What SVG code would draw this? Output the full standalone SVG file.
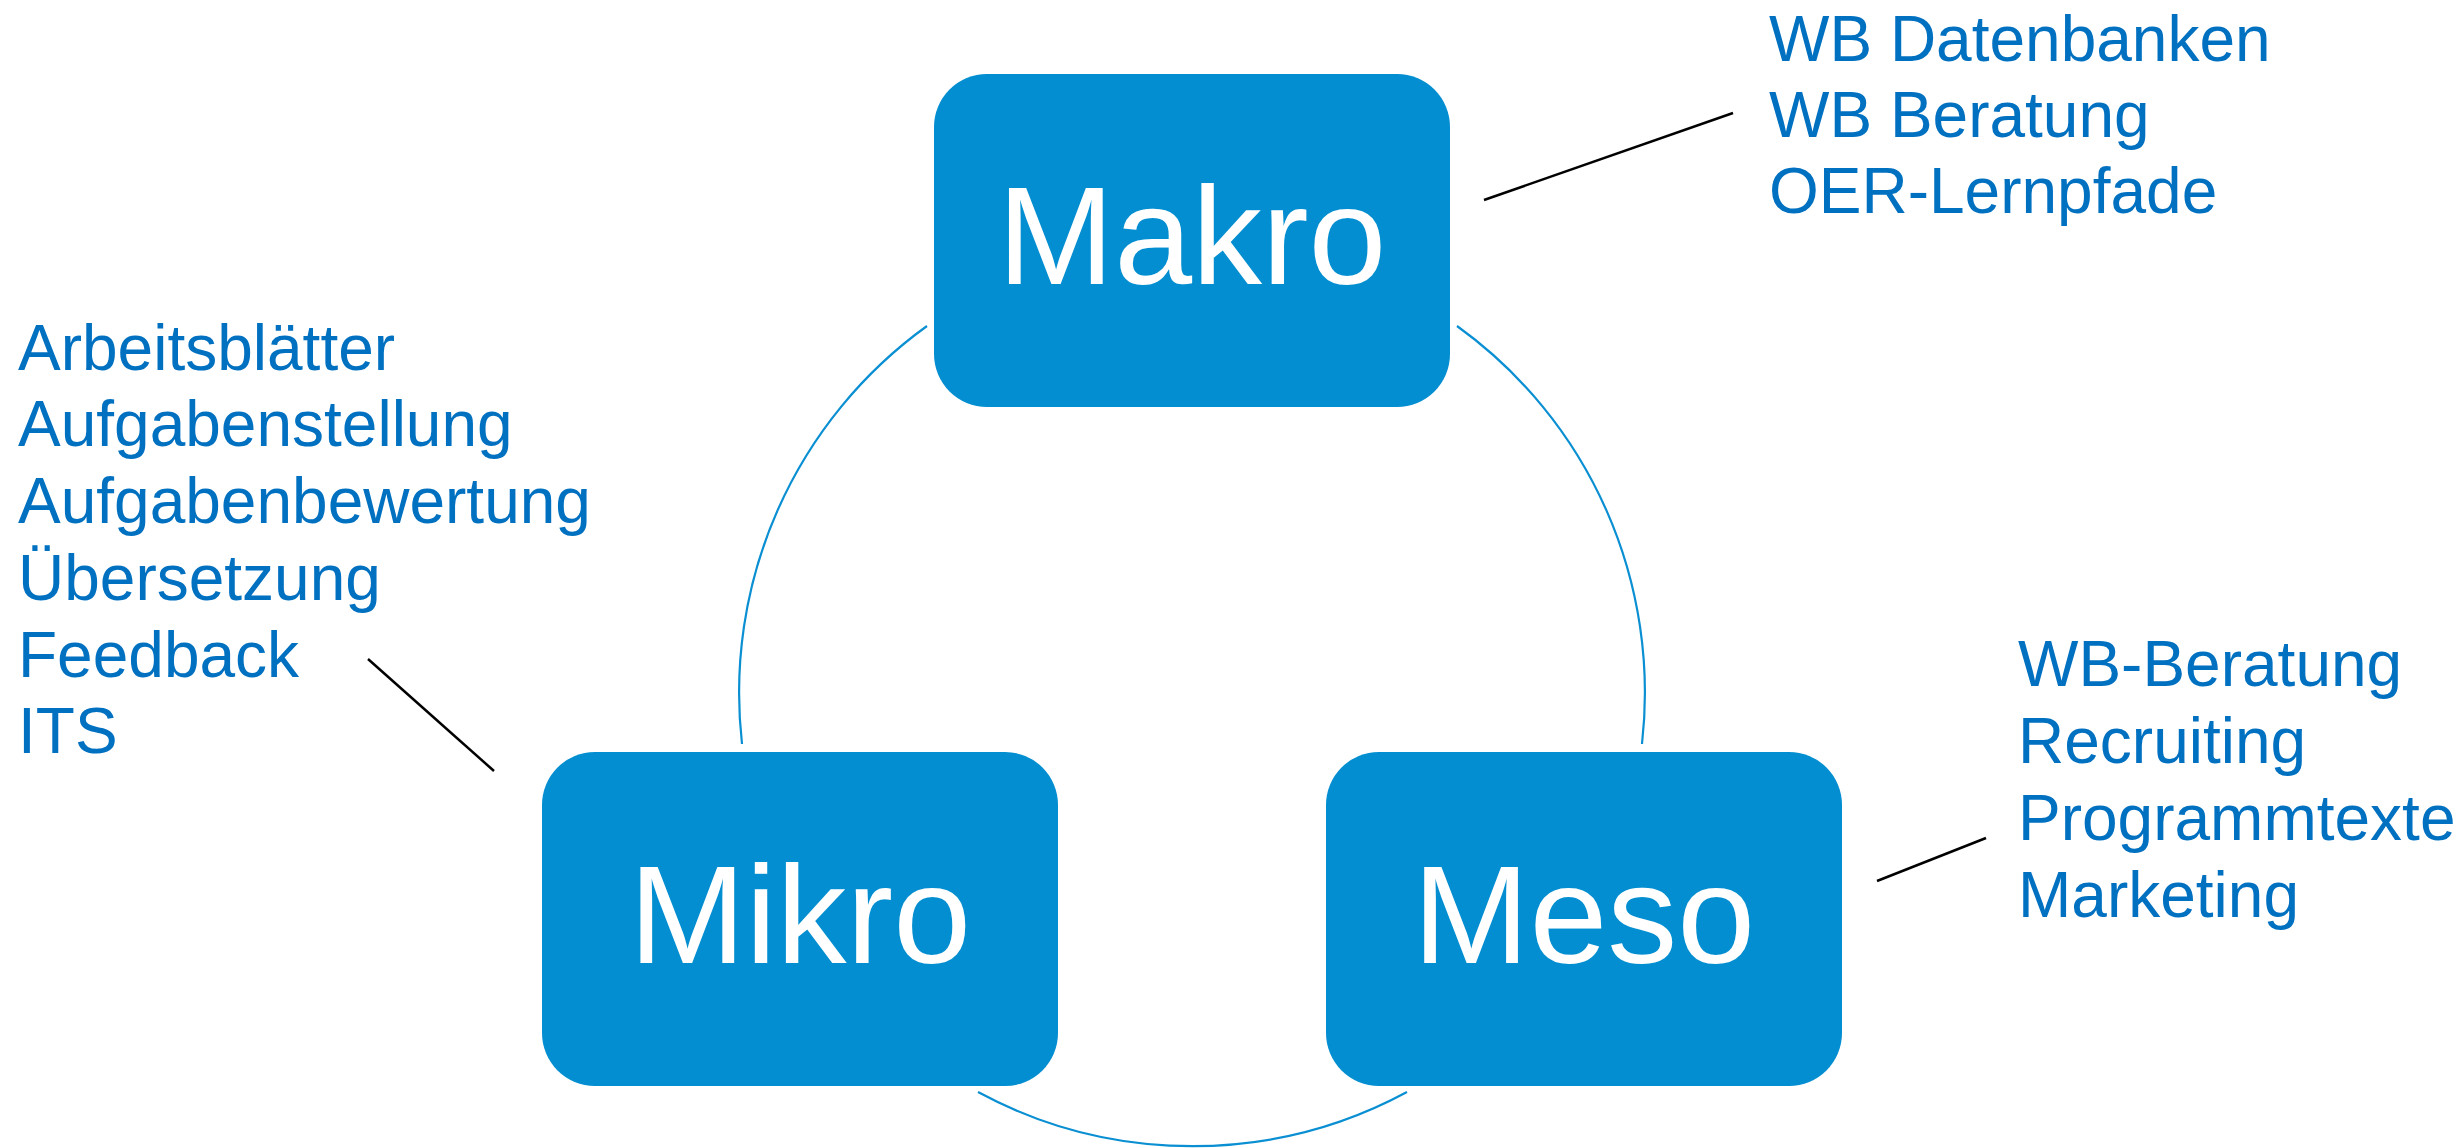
<svg xmlns="http://www.w3.org/2000/svg" width="2463" height="1148" viewBox="0 0 2463 1148">
<style>
.box{fill:#028ed0}
.bt{font-family:"Liberation Sans",Arial,sans-serif;font-size:140px;fill:#ffffff;text-anchor:middle}
.lbl{font-family:"Liberation Sans",Arial,sans-serif;font-size:64px;fill:#0070c0}
.arc{fill:none;stroke:#0a8fd2;stroke-width:2.2}
.lead{fill:none;stroke:#000000;stroke-width:2.5}
</style>
<rect width="2463" height="1148" fill="#ffffff"/>
<g id="connectors">
<path class="arc" d="M 927 326 A 452 452 0 0 0 742 744"/>
<path class="arc" d="M 1457 326 A 452 452 0 0 1 1642 744"/>
<path class="arc" d="M 1407 1092 A 452 452 0 0 1 978 1092"/>
<line class="lead" x1="1484" y1="200" x2="1733" y2="113"/>
<line class="lead" x1="368" y1="659" x2="494" y2="771"/>
<line class="lead" x1="1877" y1="881" x2="1986" y2="838"/>
</g>
<g id="makro">
<rect class="box" x="934" y="74" width="516" height="333" rx="53" ry="53"/>
<text class="bt" x="1192" y="284">Makro</text>
</g>
<g id="mikro">
<rect class="box" x="542" y="752" width="516" height="334" rx="53" ry="53"/>
<text class="bt" x="800" y="963">Mikro</text>
</g>
<g id="meso">
<rect class="box" x="1326" y="752" width="516" height="334" rx="53" ry="53"/>
<text class="bt" x="1584" y="963">Meso</text>
</g>
<g id="makro-labels">
<text class="lbl" x="1769" y="61">WB Datenbanken</text>
<text class="lbl" x="1769" y="137">WB Beratung</text>
<text class="lbl" x="1769" y="213">OER-Lernpfade</text>
</g>
<g id="mikro-labels">
<text class="lbl" x="18" y="370">Arbeitsblätter</text>
<text class="lbl" x="18" y="446">Aufgabenstellung</text>
<text class="lbl" x="18" y="523">Aufgabenbewertung</text>
<text class="lbl" x="18" y="600">Übersetzung</text>
<text class="lbl" x="18" y="677">Feedback</text>
<text class="lbl" x="18" y="753">ITS</text>
</g>
<g id="meso-labels">
<text class="lbl" x="2018" y="686">WB-Beratung</text>
<text class="lbl" x="2018" y="763">Recruiting</text>
<text class="lbl" x="2018" y="840">Programmtexte</text>
<text class="lbl" x="2018" y="917">Marketing</text>
</g>
</svg>
